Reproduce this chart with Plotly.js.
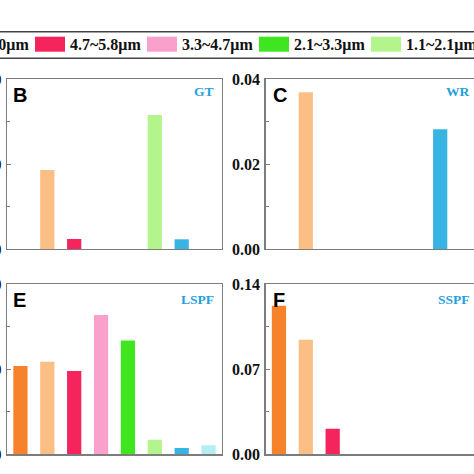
<!DOCTYPE html>
<html>
<head>
<meta charset="utf-8">
<script src="https://cdn.plot.ly/plotly-3.0.1.min.js"></script>
<style>
html,body{margin:0;padding:0;overflow:hidden;background:#fff;width:474px;height:474px;}
#chart{position:absolute;left:-40px;top:0;width:560px;height:474px;}
</style>
</head>
<body>
<div id="chart"></div>
<script>
// ---- data ----
const categories = ['>9.0μm','5.8~9.0μm','4.7~5.8μm','3.3~4.7μm','2.1~3.3μm','1.1~2.1μm','0.65~1.1μm','<0.65μm'];
const colors = ['#f6832b','#fbbf86','#f5245c','#f9a0cc','#3fe620','#b3f48c','#38b4e2','#b4eef0'];
const gtValues   = [null, 0.093, 0.0118, null, null, 0.1576, 0.0114, null];
const wrValues   = [null, 0.0369, null, null, null, null, 0.0282, null];
const lspfValues = [0.104, 0.109, 0.098, 0.164, 0.134, 0.017, 0.0074, 0.0106];
const sspfValues = [0.1224, 0.0944, 0.0211, null, null, null, null, null];
const panelLetters = ['B','C','E','F'];
const panelNames = ['GT','WR','LSPF','SSPF'];
const yRanges = [[0,0.2],[0,0.04],[0,0.2],[0,0.14]];
const yDticks = [0.1,0.02,0.1,0.07];
const yFormats = ['.2f','.2f','.2f','.2f'];

// ---- geometry helpers (page px -> paper) ----
const W = 560, H = 474, OFF = 40;
const px = x => (x + OFF) / W;
const py = y => 1 - y / H;

const xDomL = [px(7), px(222)];
const xDomR = [px(265.5), px(480.5)];
const yDomT = [py(249), py(79)];
const yDomB = [py(454.3), py(284.3)];

const series = [gtValues, wrValues, lspfValues, sspfValues];
const traces = series.map((vals, i) => ({
  type: 'bar',
  x: categories,
  y: vals,
  marker: {color: colors, line: {width: 0}},
  xaxis: 'x' + (i === 0 ? '' : i + 1),
  yaxis: 'y' + (i === 0 ? '' : i + 1),
  showlegend: false,
  hoverinfo: 'x+y'
}));

const lineCol = '#7d7d7d';
const tickFont = {family: 'Liberation Serif, Times New Roman, serif', size: 16, color: '#111', weight: 'bold'};

const layout = {
  width: W, height: H,
  margin: {l: 0, r: 0, t: 0, b: 0},
  paper_bgcolor: '#fff', plot_bgcolor: '#fff',
  bargap: 0.47,
  showlegend: false,
  annotations: [],
  shapes: []
};

const xd = [xDomL, xDomR, xDomL, xDomR];
const yd = [yDomT, yDomT, yDomB, yDomB];
for (let i = 0; i < 4; i++) {
  const s = i === 0 ? '' : String(i + 1);
  layout['xaxis' + s] = {
    domain: xd[i], anchor: 'y' + s, type: 'category',
    categoryorder: 'array', categoryarray: categories,
    range: [-0.5, 7.5], showline: true, mirror: true, linecolor: lineCol, linewidth: 1.3,
    showticklabels: false, ticks: '', showgrid: false, zeroline: false, fixedrange: true
  };
  layout['yaxis' + s] = {
    domain: yd[i], anchor: 'x' + s, range: yRanges[i], dtick: yDticks[i], tick0: 0,
    tickformat: yFormats[i],
    showline: true, mirror: true, linecolor: lineCol, linewidth: 1.3,
    ticks: 'inside', ticklen: 4, tickcolor: lineCol, tickwidth: 1,
    ticklabelstandoff: 1,
    minor: {ticks: 'inside', ticklen: 3, tickcolor: lineCol, dtick: yDticks[i] / 2, showgrid: false},
    showgrid: false, zeroline: false, tickfont: tickFont, fixedrange: true
  };
  // panel letter
  layout.annotations.push({
    xref: 'paper', yref: 'paper',
    x: px(xd[i] === xDomL ? 11 : 271), y: py(yd[i] === yDomT ? 82 : 287),
    xanchor: 'left', yanchor: 'top', showarrow: false,
    text: panelLetters[i],
    font: {family: 'Liberation Sans, Arial, sans-serif', size: 20, color: '#000', weight: 'bold'}
  });
  // site name
  layout.annotations.push({
    xref: 'paper', yref: 'paper',
    x: px(xd[i] === xDomL ? 216 : 472), y: py(yd[i] === yDomT ? 91.5 : 299),
    xanchor: 'right', yanchor: 'middle', showarrow: false,
    text: panelNames[i],
    font: {family: 'Liberation Serif, Times New Roman, serif', size: 13.5, color: '#1fa0e0', weight: 'bold'}
  });
}

// ---- legend band (drawn with shapes + text) ----
layout.shapes.push({type: 'line', xref: 'paper', yref: 'paper', x0: 0, x1: 1, y0: py(31.7), y1: py(31.7), line: {color: '#444', width: 1.5}});
layout.shapes.push({type: 'line', xref: 'paper', yref: 'paper', x0: 0, x1: 1, y0: py(58.3), y1: py(58.3), line: {color: '#444', width: 1.5}});
for (let i = 0; i < categories.length; i++) {
  const left = 35 + (i - 2) * 112;
  layout.shapes.push({
    type: 'rect', xref: 'paper', yref: 'paper',
    x0: px(left), x1: px(left + 30), y0: py(51.7), y1: py(36.7),
    fillcolor: colors[i], line: {width: 0}
  });
  layout.annotations.push({
    xref: 'paper', yref: 'paper', x: px(left + 33), y: py(44.5),
    xanchor: 'left', yanchor: 'middle', showarrow: false,
    text: categories[i],
    font: {family: 'Liberation Serif, Times New Roman, serif', size: 16, color: '#111', weight: 'bold'}
  });
}

Plotly.newPlot('chart', traces, layout, {staticPlot: true, displayModeBar: false});
</script>
</body>
</html>
